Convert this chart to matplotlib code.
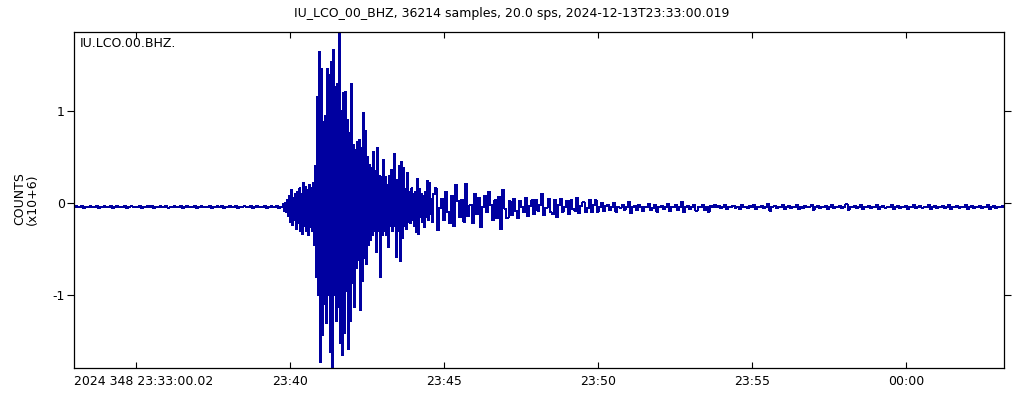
import numpy as np
import matplotlib
matplotlib.use("Agg")
import matplotlib.pyplot as plt
import matplotlib.dates as mdates
from datetime import datetime, timedelta

# ---------------- data ----------------
title_text = "IU_LCO_00_BHZ, 36214 samples, 20.0 sps, 2024-12-13T23:33:00.019"
station_label = "IU.LCO.00.BHZ."
start_label = "2024 348 23:33:00.02"
start_time = datetime(2024, 12, 13, 23, 33, 0, 19000)
duration_s = 36214 / 20.0
y_units = "COUNTS\n(x10+6)"

# trace, counts in units of 1e6
pre_event_t0, pre_event_dt = 0.0, 4.0
pre_event_counts = [
    -0.04, -0.035, -0.045, -0.04, -0.03, -0.05, -0.04, -0.04, -0.035, -0.045,
    -0.04, -0.03, -0.05, -0.04, -0.045, -0.035, -0.04, -0.04, -0.03, -0.05,
    -0.04, -0.035, -0.045, -0.04, -0.04, -0.03, -0.05, -0.04, -0.035, -0.045,
    -0.04, -0.04, -0.03, -0.05, -0.04, -0.045, -0.035, -0.04, -0.03, -0.05,
    -0.04, -0.04, -0.035, -0.045, -0.04, -0.03, -0.05, -0.04, -0.045, -0.035,
    -0.04, -0.04, -0.03, -0.05, -0.04, -0.035, -0.045, -0.04, -0.04, -0.03,
    -0.05, -0.04, -0.035, -0.045, -0.04, -0.04, -0.03, -0.05, -0.04, -0.045,
    -0.035, -0.04, -0.03, -0.05, -0.04, -0.04, -0.035, -0.045, -0.04, -0.03,
    -0.05, -0.04, -0.045, -0.035, -0.04, -0.04, -0.03, -0.05, -0.04, -0.035,
    -0.045, -0.04, -0.04, -0.03, -0.05, -0.04, -0.035, -0.045, -0.04, -0.03,
    -0.05,
]

main_t0, main_dt = 404.0, 1.95
main_counts = [
    -0.04, -0.045, -0.01, -0.08, 0.00, -0.10, 0.03, -0.14, 0.08, -0.20,
    0.14, -0.24, 0.06, -0.18, 0.10, -0.28, 0.12, -0.22, 0.16, -0.30,
    0.10, -0.33, 0.22, -0.25, 0.18, -0.30, 0.14, -0.35, 0.20, -0.26,
    0.16, -0.30, 0.22, -0.45, 0.40, -0.80, 1.15, -1.00, 1.64, -1.72,
    1.46, -1.43, 0.88, -1.09, 0.95, -1.30, 1.46, -1.00, 1.39, -1.62,
    1.53, -1.79, 1.66, -1.00, 1.26, -1.28, 1.30, -1.13, 1.86, -1.52,
    1.00, -1.65, 1.20, -1.41, 1.21, -0.95, 0.90, -1.58, 0.76, -1.28,
    1.30, -0.87, 0.63, -1.13, 0.58, -0.70, 0.67, -0.62, 0.69, -1.16,
    0.60, -0.84, 0.98, -0.60, 0.79, -0.66, 0.50, -0.45, 0.42, -0.40,
    0.38, -0.35, 0.56, -0.30, 0.35, -0.53, 0.60, -0.30, 0.30, -0.80,
    0.28, -0.35, 0.47, -0.30, 0.28, -0.35, 0.20, -0.48, 0.30, -0.25,
    0.36, -0.30, 0.22, 0.54, -0.25, -0.58, 0.25, -0.30, 0.40, -0.63,
    0.45, -0.38, 0.38, -0.25, 0.15, -0.28, 0.33, -0.20, 0.12, -0.22,
    0.16, -0.18, 0.10, -0.25, 0.12, -0.31, 0.26, -0.33, 0.15, -0.15,
    0.10, -0.20, 0.08, -0.26, 0.12, -0.15, 0.24, -0.18, 0.22, -0.12,
    0.05, -0.20, 0.10,
]

coda_t0, coda_dt = 704.0, 4.0
coda_counts = [
    0.16, -0.29, -0.05, 0.05, -0.18, 0.12, -0.10, -0.22, 0.08, -0.25,
    0.20, 0.02, -0.15, 0.04, -0.20, 0.21, -0.14, -0.02, -0.22, 0.10,
    -0.12, 0.06, -0.26, -0.04, 0.08, -0.10, 0.12, -0.02, -0.18, 0.03,
    -0.16, 0.07, -0.28, 0.14, -0.06, -0.16, 0.02, -0.13, 0.05, -0.08,
    -0.16, 0.02, -0.04, -0.10, 0.06, -0.14, -0.03, 0.03, -0.12, 0.04,
    -0.08, -0.02, 0.10, -0.13, -0.05, 0.05, -0.10, -0.12, 0.04, -0.15,
    -0.02, 0.05, -0.09, -0.04, 0.02, -0.12, 0.03, -0.06, -0.08, 0.06,
    -0.11, -0.03, 0.01, -0.10, -0.05, 0.04, -0.10, -0.02, 0.03, -0.09,
    -0.04, 0.00,
    -0.08, -0.03, -0.02, -0.07, -0.04, 0.00, -0.09, -0.04, -0.05, -0.02,
    -0.07, -0.04, 0.01, -0.11, -0.04, -0.03, -0.07, -0.02, -0.04, -0.08,
    -0.04, -0.04, -0.01, -0.07, -0.05, -0.02, -0.09, -0.04, -0.03, -0.06,
    -0.04, -0.01, -0.08, -0.04, -0.04, -0.02, -0.07, -0.04, 0.01, -0.10,
    -0.04, -0.03, -0.06, -0.04, -0.02, -0.08, -0.04, -0.04, -0.02, -0.07,
    -0.04, -0.09, -0.03, -0.04, -0.02,
    -0.04, -0.03, -0.05, -0.04, -0.02, -0.06, -0.04, -0.04, -0.03, -0.05,
    -0.04, -0.06, -0.02, -0.04, -0.04, -0.05, -0.03, -0.04, -0.02, -0.06,
    -0.04, -0.04, -0.03, -0.05, -0.04, -0.01, -0.08, -0.04, -0.03, -0.05,
    -0.04, -0.04, -0.02, -0.06, -0.04, -0.03, -0.05, -0.04, -0.04, -0.02,
    -0.06, -0.04, -0.05, -0.03, -0.04, -0.04, -0.02, -0.07, -0.04, -0.03,
    -0.05, -0.04, -0.04, -0.03, -0.06, -0.04, -0.02, -0.05, -0.04, -0.04,
    -0.03, -0.05, -0.04, -0.01, -0.07, -0.04, -0.04, -0.03, -0.05, -0.04,
    -0.02, -0.06, -0.04, -0.04, -0.03, -0.05, -0.04, -0.04, -0.02, -0.06,
    -0.04, -0.03, -0.05, -0.04, -0.04, -0.02, -0.06, -0.04, -0.03, -0.05,
    -0.04, -0.04, -0.03, -0.06, -0.04, -0.04, -0.02, -0.05, -0.04, -0.03,
    -0.05, -0.04, -0.04, -0.02, -0.06, -0.04, -0.03, -0.05, -0.04, -0.04,
    -0.03, -0.05, -0.04, -0.02, -0.06, -0.04, -0.04, -0.03, -0.05, -0.04,
    -0.04, -0.02, -0.06, -0.04, -0.03, -0.05, -0.04, -0.04, -0.03, -0.05,
    -0.04, -0.04, -0.02, -0.06, -0.04, -0.03, -0.05, -0.04, -0.04, -0.03,
    -0.04,
]

tick_times = ["23:35", "23:40", "23:45", "23:50", "23:55", "00:00"]
tick_labels = ["", "23:40", "23:45", "23:50", "23:55", "00:00"]
ytick_values = [-1, 0, 1]
ytick_labels = ["-1", "0", "1"]
ylim_counts = (-1.79, 1.86)

# ---------------- build ----------------
def seg(t0, dt, vals):
    return t0 + dt * np.arange(len(vals)), np.asarray(vals, float)

segs = [seg(pre_event_t0, pre_event_dt, pre_event_counts),
        seg(main_t0, main_dt, main_counts),
        seg(coda_t0, coda_dt, coda_counts)]
t_sec = np.concatenate([s[0] for s in segs])
vals = np.concatenate([s[1] for s in segs])

start_num = mdates.date2num(start_time)
x = start_num + t_sec / 86400.0

plt.rcParams['font.family'] = ['DejaVu Sans']
plt.rcParams['axes.unicode_minus'] = False

fig = plt.figure(figsize=(10.24, 4.0), dpi=100)
ax = fig.add_axes([74 / 1024, 1 - 368 / 400, 930 / 1024, 336 / 400])

ax.plot(x, vals, color='#0000a0', lw=0.72, drawstyle='steps-mid',
        antialiased=False)

ax.set_xlim(start_num, start_num + duration_s / 86400.0)
ax.set_ylim(*ylim_counts)

tick_nums = []
for s in tick_times:
    h, m = map(int, s.split(":"))
    d = start_time.replace(hour=h, minute=m, second=0, microsecond=0)
    if h < start_time.hour:
        d = d + timedelta(days=1)
    tick_nums.append(mdates.date2num(d))
ax.set_xticks(tick_nums)
ax.set_xticklabels(tick_labels, fontsize=9)
ax.set_yticks(ytick_values)
ax.set_yticklabels(ytick_labels, fontsize=9)

ax.tick_params(axis='x', direction='in', top=True, bottom=True, length=4.5,
               width=0.8, pad=5, color='black')
ax.tick_params(axis='y', direction='out', left=True, right=True, length=5,
               width=0.8, pad=1.5, color='black')
for sp in ax.spines.values():
    sp.set_linewidth(0.9)
    sp.set_color('black')

ax.text(0.0, -0.021, start_label, transform=ax.transAxes, ha='left', va='top',
        fontsize=9)
ax.text(6 / 930, 1 - 5 / 336, station_label, transform=ax.transAxes,
        ha='left', va='top', fontsize=9)

fig.text(512 / 1024, 1 - 13 / 400, title_text, ha='center', va='center',
         fontsize=9)
fig.text(26 / 1024, 1 - 199 / 400, y_units, ha='center', va='center',
         rotation=90, fontsize=9, multialignment='center', linespacing=1.05)

fig.savefig("out.png", dpi=100)
